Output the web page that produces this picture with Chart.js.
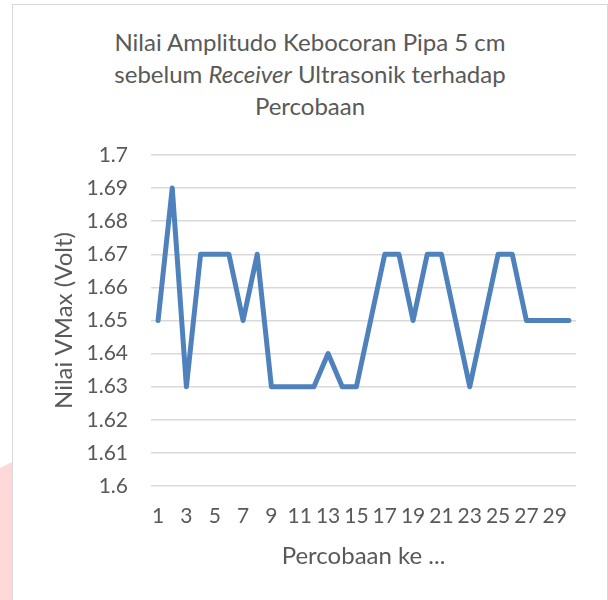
<!DOCTYPE html>
<html>
<head>
<meta charset="utf-8">
<script src="https://cdn.jsdelivr.net/npm/chart.js@4/dist/chart.umd.min.js"></script>
<style>
  html, body { margin: 0; padding: 0; background: #fff; }
  #wrap { position: relative; width: 608px; height: 600px; overflow: hidden; }
  #pink { position: absolute; left: 0; top: 462px; width: 12px; height: 138px; background: #ffd9d9;
          clip-path: polygon(0 6px, 12px 0, 12px 138px, 0 138px); }
  #frame { position: absolute; left: 12px; top: 4px; width: 594px; height: 610px;
           border: 1.5px solid #d9d9d9; background: #fff; }
  #title { position: absolute; left: 10px; top: 26px; width: 600px; text-align: center;
           font-family: Lato, sans-serif; font-size: 24px; line-height: 32px; color: #595959; }
  #title i { font-style: italic; }
  canvas { position: absolute; left: 0; top: 0; }
</style>
</head>
<body>
<div id="wrap">
  <div id="pink"></div>
  <div id="frame"></div>
  <div id="title">Nilai Amplitudo Kebocoran Pipa 5 cm<br>sebelum <i>Receiver</i> Ultrasonik terhadap<br>Percobaan</div>
  <canvas id="chart" width="608" height="600"></canvas>
</div>
<script>
// data
const percobaan = [];
for (let i = 1; i <= 30; i++) percobaan.push(String(i));
const vmax = [1.65, 1.69, 1.63, 1.67, 1.67, 1.67, 1.65, 1.67, 1.63, 1.63,
              1.63, 1.63, 1.64, 1.63, 1.63, 1.65, 1.67, 1.67, 1.65, 1.67,
              1.67, 1.65, 1.63, 1.65, 1.67, 1.67, 1.65, 1.65, 1.65, 1.65];
const yMin = 1.6, yMax = 1.7, yStep = 0.01;

const textColor = '#595959';
const gridColor = '#d9d9d9';

new Chart(document.getElementById('chart'), {
  type: 'line',
  data: {
    labels: percobaan,
    datasets: [{
      label: 'VMax',
      data: vmax,
      borderColor: '#4f81bd',
      borderWidth: 5,
      borderJoinStyle: 'round',
      borderCapStyle: 'round',
      pointRadius: 0,
      tension: 0,
      fill: false
    }]
  },
  options: {
    responsive: false,
    animation: false,
    layout: { padding: { left: 50, right: 32, top: 155, bottom: 0 } },
    plugins: { legend: { display: false }, tooltip: { enabled: false } },
    scales: {
      x: {
        offset: true,
        grid: { display: false },
        border: { display: false },
        ticks: {
          autoSkip: false,
          maxRotation: 0,
          padding: 10,
          color: textColor,
          font: { family: 'Lato', size: 21 },
          callback: (v, i) => (i % 2 === 0 ? percobaan[i] : '')
        },
        title: {
          display: true,
          text: 'Percobaan ke ...',
          color: textColor,
          font: { family: 'Lato', size: 24 },
          padding: { top: 0, bottom: 29 }
        },
        afterFit: (s) => { s.height = 114; }
      },
      y: {
        min: yMin,
        max: yMax,
        border: { display: false },
        grid: { color: gridColor, lineWidth: 1.5, drawTicks: false },
        ticks: {
          stepSize: yStep,
          padding: 23,
          color: textColor,
          font: { family: 'Lato', size: 21 },
          callback: (v) => Number(v.toFixed(2)).toString()
        },
        title: {
          display: true,
          text: 'Nilai VMax (Volt)',
          color: textColor,
          font: { family: 'Lato', size: 24 },
          padding: 0
        },
        afterFit: (s) => { s.width = 101; }
      }
    }
  }
});
</script>
</body>
</html>
